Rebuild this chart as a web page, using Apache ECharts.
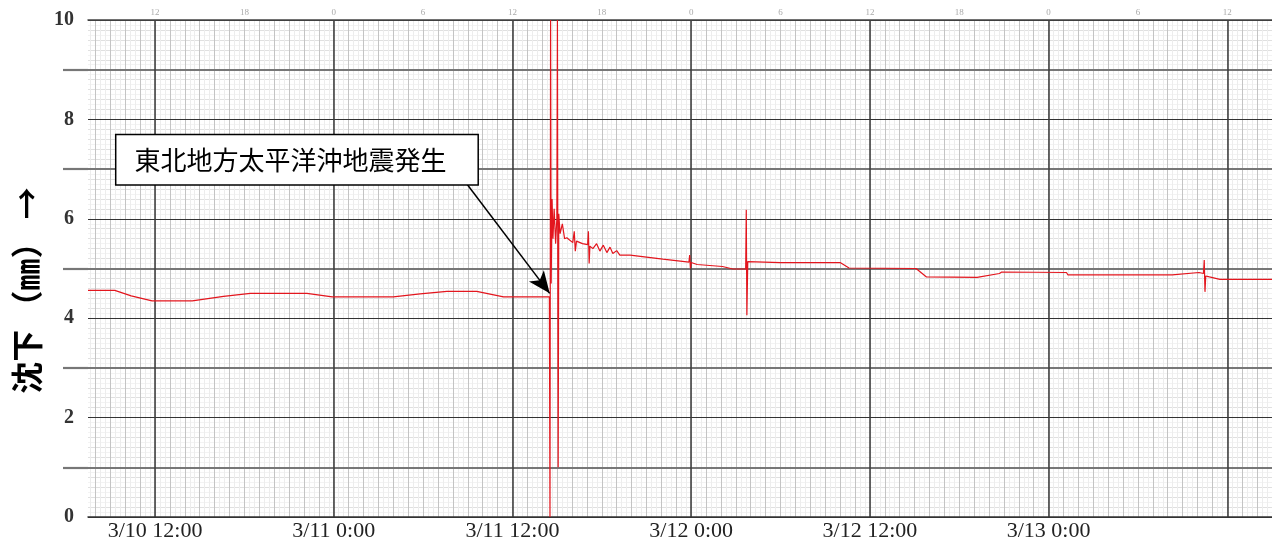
<!DOCTYPE html>
<html><head><meta charset="utf-8">
<script src="https://cdn.jsdelivr.net/npm/echarts@6/dist/echarts.min.js"></script>
<style>html,body{margin:0;padding:0;background:#fff}#c{width:1272px;height:545px}</style>
</head><body><div id="c"></div>
<script>
// ---- data (x = hours since 3/10 0:00, y = settlement in mm) ----
const hours = [7.5, 9.3, 10.4, 11.8, 14.5, 16.6, 18.4, 22.2, 23.9, 28.0, 29.8, 31.6, 33.6, 35.4, 38.48,
  38.52, 38.56, 38.60, 38.66, 38.72, 38.80, 38.90, 38.98, 39.02, 39.07, 39.11, 39.2, 39.35, 39.5, 39.65,
  40.05, 40.15, 40.22, 40.3, 40.7, 41.05, 41.1, 41.15, 41.2, 41.4, 41.65, 41.87, 42.1, 42.34, 42.55, 42.74,
  43.0, 43.21, 43.9, 46.1, 47.85, 47.9, 47.95, 48.0, 48.4, 50.1, 50.8, 51.66, 51.70, 51.74, 51.8, 54.0,
  58.0, 58.6, 63.1, 63.8, 67.2, 68.7, 68.85, 73.2, 73.3, 80.3, 82.1, 82.4, 82.45, 82.5, 82.55, 82.8, 83.5, 87.0];
const settlement = [4.56, 4.56, 4.45, 4.35, 4.35, 4.44, 4.50, 4.50, 4.43, 4.43, 4.49, 4.54, 4.54, 4.43, 4.43,
  0, 10, 4.7, 6.4, 5.6, 6.2, 5.5, 6.0, 10, 1.0, 6.1, 5.7, 5.9, 5.6, 5.62,
  5.52, 5.75, 5.35, 5.55, 5.5, 5.48, 5.75, 5.1, 5.45, 5.40, 5.50, 5.35, 5.47, 5.32, 5.43, 5.30,
  5.36, 5.27, 5.27, 5.19, 5.13, 5.27, 5.0, 5.12, 5.08, 5.04, 4.99, 4.99, 6.18, 4.06, 5.14, 5.12,
  5.12, 5.01, 5.00, 4.83, 4.82, 4.90, 4.93, 4.92, 4.87, 4.87, 4.92, 4.90, 5.17, 4.53, 4.85, 4.83, 4.78, 4.78];

// ---- axes / ticks ----
const xMin = 7.5, xMax = 87;
const dateLabelHours = [12, 24, 36, 48, 60, 72];
const majorGridHours = [12, 24, 36, 48, 60, 72, 84];
const topTickHours = [12, 18, 24, 30, 36, 42, 48, 54, 60, 66, 72, 78, 84];
const oddMmLines = [1, 3, 5, 7, 9];
const yName = '沈下 （㎜） →';

// ---- annotation ----
const annotationText = '東北地方太平洋沖地震発生';
const annotationAnchor = [21.53, 7.19];
const arrowStart = [32.94, 6.70];
const arrowTip = [38.5, 4.5];

const hourlyLines = [];
for (let h = Math.ceil(xMin); h <= xMax; h++) hourlyLines.push(h);
const fineLines = [];
for (let k = Math.ceil(xMin * 3); k <= xMax * 3; k++) fineLines.push(k / 3);

const serif = "'Liberation Serif','DejaVu Serif',serif";
const hidden = {axisLine: {show: false}, axisLabel: {show: false}};
const solid = (color, width) => ({show: true, lineStyle: {color: color, width: width, type: 'solid'}});

function dateLabel(v) {
  const day = 10 + Math.floor(v / 24);
  const hr = Math.round(v % 24);
  return '3/' + day + ' ' + hr + ':00';
}

const chart = echarts.init(document.getElementById('c'));
chart.setOption({
  animation: false,
  backgroundColor: '#fff',
  grid: {left: 88, right: 0, top: 20, bottom: 28, containLabel: false, outerBoundsMode: 'none'},
  xAxis: [
    Object.assign({type: 'value', min: xMin, max: xMax, position: 'bottom', z: 0,
      axisTick: {show: false, customValues: fineLines},
      splitLine: solid('#ededed', 1)}, hidden),
    Object.assign({type: 'value', min: xMin, max: xMax, position: 'bottom', z: 0,
      axisTick: {show: false, customValues: hourlyLines},
      splitLine: solid('#c4c4c4', 1)}, hidden),
    {type: 'value', min: xMin, max: xMax, position: 'bottom', z: 1,
      axisLine: {show: true, lineStyle: {color: '#333', width: 1.5}},
      axisTick: {show: false, customValues: majorGridHours},
      axisLabel: {show: true, customValues: dateLabelHours, formatter: dateLabel,
        fontFamily: serif, fontSize: 22, color: '#222', margin: 3},
      splitLine: solid('#3a3a3a', 1.5)},
    {type: 'value', min: xMin, max: xMax, position: 'top', z: 1,
      axisLine: {show: true, lineStyle: {color: '#444', width: 1.5}},
      axisTick: {show: false, customValues: topTickHours},
      axisLabel: {show: true, customValues: topTickHours, formatter: v => String(Math.round(v) % 24),
        fontFamily: serif, fontSize: 9, color: '#aaa', margin: 3},
      splitLine: {show: false}}
  ],
  yAxis: [
    Object.assign({type: 'value', min: 0, max: 10, interval: 0.2, position: 'left', z: 0,
      axisTick: {show: false},
      splitLine: solid('#d8d8d8', 0.8),
      minorTick: {show: false, splitNumber: 2},
      minorSplitLine: solid('#f0f0f0', 0.8)}, hidden),
    Object.assign({type: 'value', min: 0, max: 10, interval: 1, position: 'left', z: 1,
      axisTick: {show: true, customValues: oddMmLines, length: 25, lineStyle: {color: '#777', width: 2.2}},
      splitLine: solid('#777', 2.2)}, hidden),
    {type: 'value', min: 0, max: 10, interval: 2, position: 'left', z: 1,
      axisLine: {show: false}, axisTick: {show: false},
      axisLabel: {show: true, fontFamily: serif, fontWeight: 'bold', fontSize: 20, color: '#333', margin: 14},
      splitLine: solid('#333', 1.2),
      name: yName, nameLocation: 'middle', nameRotate: 90, nameGap: 36,
      nameTextStyle: {fontFamily: "'Noto Sans CJK JP'", fontWeight: 'bold', fontSize: 32, color: '#000',
        padding: [0, 44, 0, 0]}}
  ],
  series: [{
    type: 'line', xAxisIndex: 2, yAxisIndex: 2, z: 3,
    data: hours.map((h, i) => [h, settlement[i]]),
    showSymbol: false, symbol: 'none',
    lineStyle: {color: '#e3161e', width: 1.2},
    markPoint: {
      silent: true, symbol: 'circle', symbolSize: 0,
      label: {show: true, position: 'inside', formatter: annotationText, color: '#000',
        fontSize: 26, lineHeight: 27, fontFamily: "'Noto Sans CJK JP'",
        backgroundColor: '#fff', borderColor: '#000', borderWidth: 1.5,
        padding: [11, 31, 11, 18]},
      data: [{coord: annotationAnchor}]
    },
    markLine: {
      silent: true, symbol: ['none', 'arrow'], symbolSize: [14, 22],
      lineStyle: {color: '#000', width: 1.5, type: 'solid'},
      label: {show: false},
      data: [[{coord: arrowStart}, {coord: arrowTip}]]
    }
  }]
});
</script></body></html>
